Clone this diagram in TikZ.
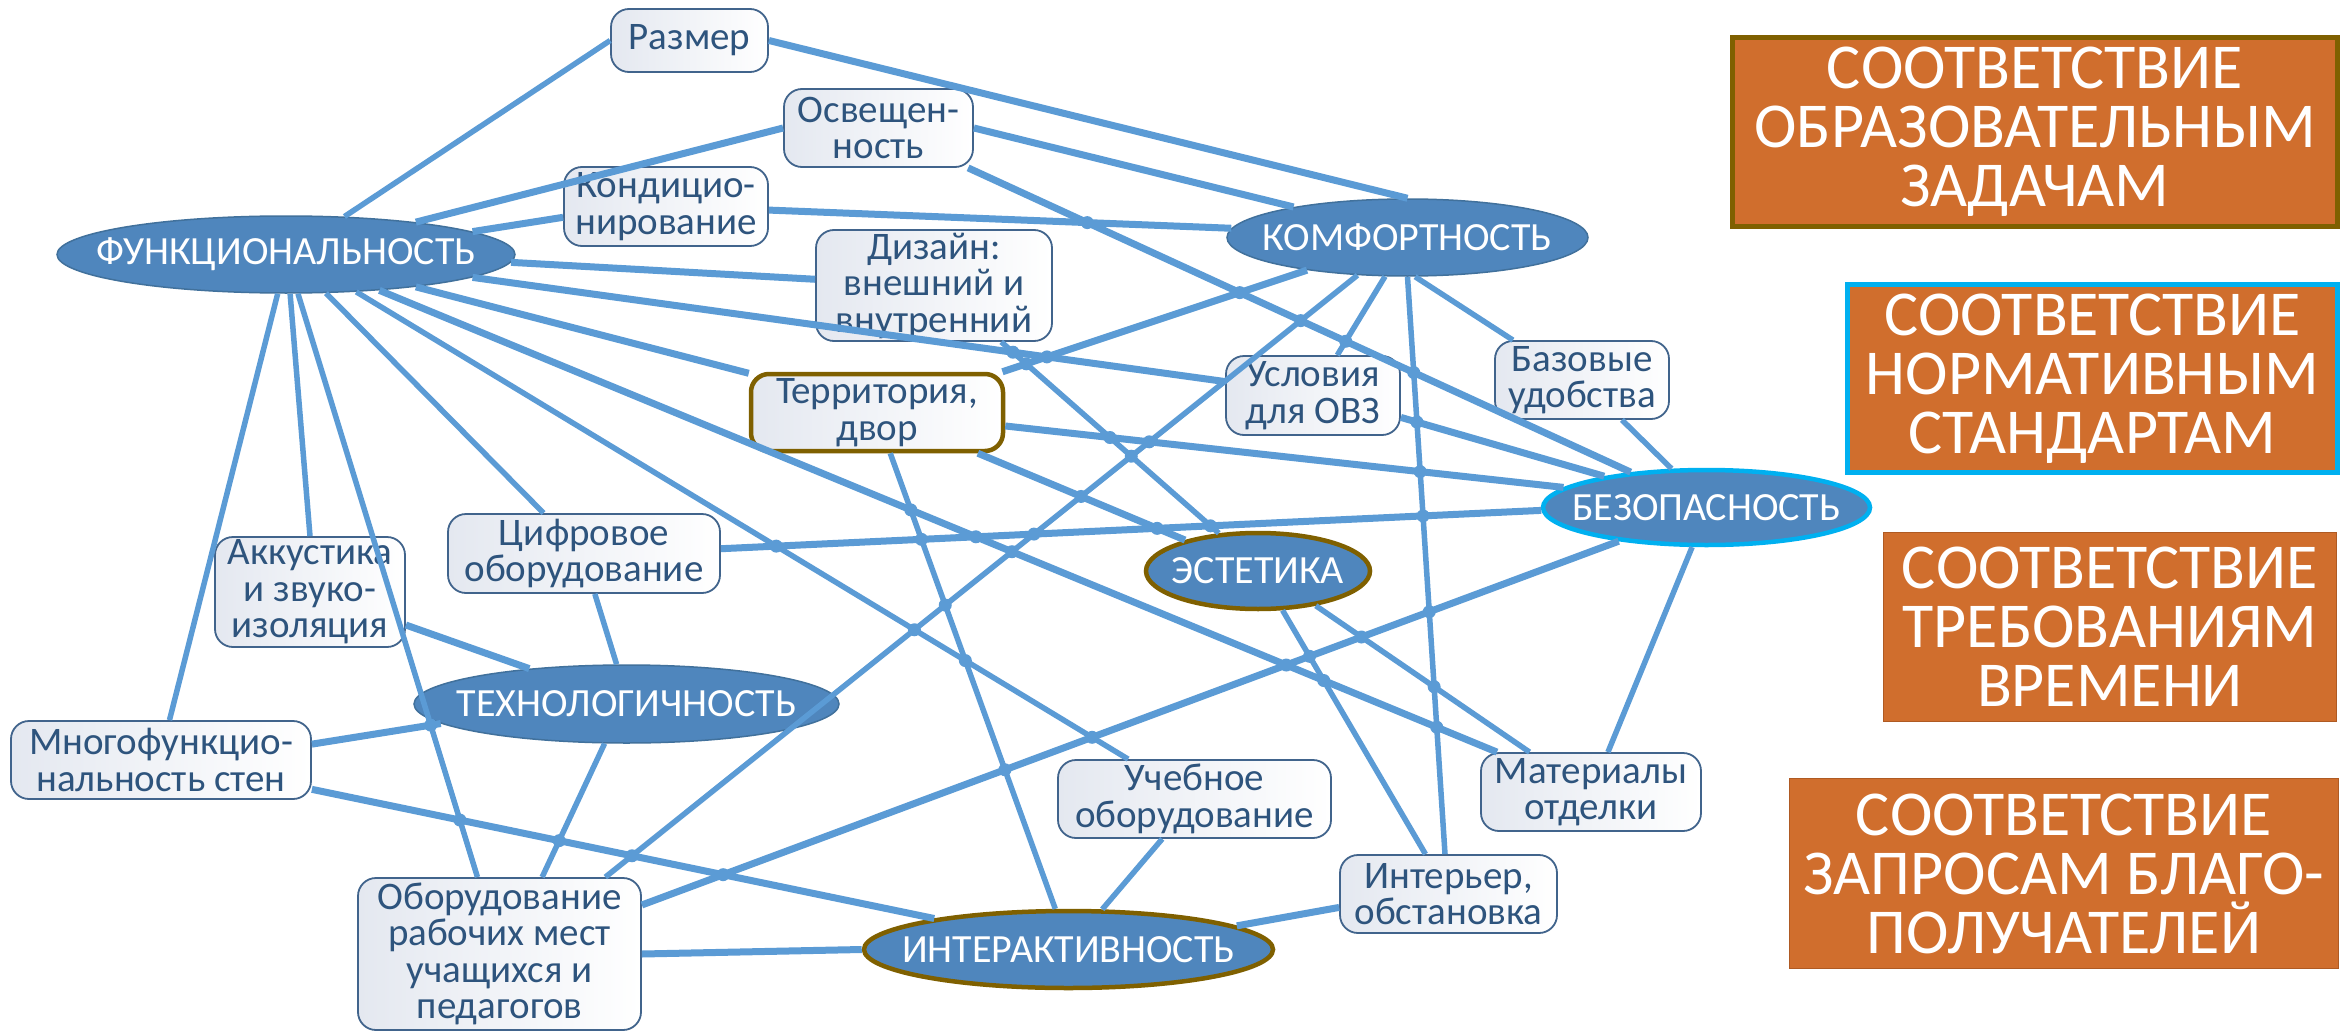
\documentclass[tikz,border=0pt]{standalone}
\usepackage{fontspec}
\setmainfont{Carlito}
\usetikzlibrary{shapes.geometric}
\definecolor{edgeblue}{RGB}{91,155,213}
\definecolor{ellfill}{RGB}{79,134,189}
\definecolor{elldraw}{RGB}{65,113,156}
\definecolor{boxdraw}{RGB}{65,100,140}
\definecolor{boxtext}{RGB}{46,84,125}
\definecolor{boxshade}{RGB}{228,232,240}
\definecolor{olivebr}{RGB}{127,96,0}
\definecolor{cyanbr}{RGB}{0,176,240}
\definecolor{orfill}{RGB}{208,110,45}
\definecolor{ordraw}{RGB}{175,90,35}
\newdimen\tmpdx \newdimen\tmpdy
\newcommand\getpt[3]{%
  \pgfextractx{\tmpdx}{\pgfpointanchor{#1}{center}}%
  \pgfextracty{\tmpdy}{\pgfpointanchor{#1}{center}}%
  \pgfmathsetmacro#2{\tmpdx/100}%
  \pgfmathsetmacro#3{\tmpdy/100}}
\tikzset{
 conbox/.style={rectangle, rounded corners=18pt, draw=boxdraw, line width=1.8pt, left color=boxshade, right color=white, text=boxtext, align=center, inner sep=0pt, font=\fontsize{39}{36.5}\selectfont},
 ellnode/.style={ellipse, fill=ellfill, draw=elldraw, line width=1.5pt, text=white, inner sep=0pt, font=\fontsize{40}{40}\selectfont},
 orbox/.style={rectangle, fill=orfill, draw=ordraw, line width=1.5pt, text=white, align=center, inner sep=0pt, font=\fontsize{64}{59}\selectfont},
 thin/.style={draw=edgeblue, line width=5.5pt},
 thick/.style={draw=edgeblue, line width=7pt},
}
\begin{document}
\begin{tikzpicture}[x=1pt,y=-1pt]
\fill[white] (0,0) rectangle (2348,1033);
\useasboundingbox (0,0) rectangle (2348,1033);
% concept boxes
\node[conbox, minimum width=157pt, minimum height=63pt] (razmer) at (689.5,40.5) {Размер};
\node[conbox, minimum width=189pt, minimum height=78pt] (osv) at (878.5,128) {Освещен-\\ность};
\node[conbox, minimum width=204pt, minimum height=79pt] (kond) at (666,206.5) {Кондицио-\\нирование};
\node[conbox, minimum width=236pt, minimum height=111pt] (dizain) at (934,285.5) {Дизайн:\\внешний и\\внутренний};
\node[conbox, draw=olivebr, line width=4.5pt, minimum width=252pt, minimum height=77pt] (terr) at (877,412.5) {Территория,\\двор};
\node[conbox, minimum width=174pt, minimum height=79pt] (ovz) at (1313,395.5) {Условия\\для ОВЗ};
\node[conbox, minimum width=174pt, minimum height=78pt] (baz) at (1582,380) {Базовые\\удобства};
\node[conbox, minimum width=272pt, minimum height=79pt] (cifr) at (584,553.5) {Цифровое\\оборудование};
\node[conbox, minimum width=190pt, minimum height=110pt] (akk) at (310,592) {Аккустика\\и звуко-\\изоляция};
\node[conbox, minimum width=300pt, minimum height=78pt] (mnog) at (161,760) {Многофункцио-\\нальность стен};
\node[conbox, minimum width=283pt, minimum height=152pt] (obor) at (499.5,954) {Оборудование\\рабочих мест\\учащихся и\\педагогов};
\node[conbox, minimum width=273pt, minimum height=78pt] (ucheb) at (1194.5,799) {Учебное\\оборудование};
\node[conbox, minimum width=217pt, minimum height=78pt] (interer) at (1448.5,894) {Интерьер,\\обстановка};
\node[conbox, minimum width=220pt, minimum height=78pt] (mater) at (1591,792) {Материалы\\отделки};
% main ellipses
\node[ellnode, minimum width=458pt, minimum height=77pt] (func) at (286,254.5) {\makebox[0pt]{ФУНКЦИОНАЛЬНОСТЬ}};
\node[ellnode, minimum width=361pt, minimum height=77pt] (komf) at (1407.5,237.5) {\makebox[0pt]{КОМФОРТНОСТЬ}};
\node[ellnode, draw=cyanbr, line width=4.5pt, minimum width=327pt, minimum height=75pt] (bez) at (1706.5,507.5) {\makebox[0pt]{БЕЗОПАСНОСТЬ}};
\node[ellnode, draw=olivebr, line width=4.5pt, minimum width=224pt, minimum height=76pt] (est) at (1258,571) {\makebox[0pt]{ЭСТЕТИКА}};
\node[ellnode, minimum width=425pt, minimum height=78pt] (tech) at (626.5,704) {\makebox[0pt]{ТЕХНОЛОГИЧНОСТЬ}};
\node[ellnode, draw=olivebr, line width=4.5pt, minimum width=409pt, minimum height=77pt] (inter) at (1068.5,949.5) {\makebox[0pt]{ИНТЕРАКТИВНОСТЬ}};
% orange boxes
\node[orbox, draw=olivebr, line width=5pt, minimum width=605pt, minimum height=189pt] (o1) at (2035,132) {СООТВЕТСТВИЕ\\ОБРАЗОВАТЕЛЬНЫМ\\ЗАДАЧАМ};
\node[orbox, draw=cyanbr, line width=5pt, minimum width=490pt, minimum height=188pt] (o2) at (2092.5,378.5) {СООТВЕТСТВИЕ\\НОРМАТИВНЫМ\\СТАНДАРТАМ};
\node[orbox, minimum width=453pt, minimum height=189pt] (o3) at (2110,627) {СООТВЕТСТВИЕ\\ТРЕБОВАНИЯМ\\ВРЕМЕНИ};
\node[orbox, minimum width=549pt, minimum height=190pt] (o4) at (2064,873.5) {СООТВЕТСТВИЕ\\ЗАПРОСАМ БЛАГО-\\ПОЛУЧАТЕЛЕЙ};
% connectors
\foreach \a/\b/\s [count=\n] in {
 func.33.3/razmer.west/thin, func.14.4/osv.west/thick, func.7.4/kond.186.4/thick,
 func.-2.7/dizain.177.3/thick, func.-7.6/ovz.171.8/thick, func.-14.5/terr.163.8/thick,
 func.258.3/mnog.78.4/thin, func.276/akk.north/thin, func.287.3/obor.106.9/thin,
 func.-44.2/cifr.135.4/thin, func.-28.7/ucheb.149.2/thin, func.-21.3/mater.157.5/thick,
 razmer.east/komf.north/thick, osv.east/komf.165.9/thick, kond.-2.5/komf.177.6/thick,
 osv.-24.2/bez.155.2/thick, dizain.-40.9/est.136.5/thin, terr.-22.8/est.157.2/thick,
 terr.-6.5/bez.172.3/thick, terr.-72.3/inter.108.4/thin, komf.198.3/terr.18.7/thick,
 komf.217.6/obor.36.4/thin, komf.240.2/ovz.59.1/thin, komf.270.7/interer.95.1/thin,
 komf.-79/baz.150/thin, ovz.-14.5/bez.163.3/thick, baz.-45/bez.132/thin,
 bez.181.9/cifr.2.3/thick, bez.201.7/obor.19.1/thick, bez.250.2/mater.67.7/thin,
 est.-58.1/interer.120/thin, est.-31.6/mater.147.4/thin, ucheb.231.1/inter.50.9/thin,
 interer.187.9/inter.8/thick, obor.-0.4/inter.180.7/thick, mnog.-11.5/inter.167.6/thick,
 mnog.6.8/tech.186.8/thick, akk.-19.2/tech.160.4/thick, cifr.-75.4/tech.104.4/thin,
 tech.241.7/obor.61.9/thin}{
  \draw[\s] (\a) -- (\b);
  \coordinate (ps\n) at (\a);
  \coordinate (pe\n) at (\b);
}
% junction dots where connectors cross
\foreach \i in {1,...,39}{
  \pgfmathtruncatemacro{\jfirst}{\i+1}
  \foreach \j in {\jfirst,...,40}{
    \getpt{ps\i}{\xa}{\ya}\getpt{pe\i}{\xb}{\yb}%
    \getpt{ps\j}{\xc}{\yc}\getpt{pe\j}{\xd}{\yd}%
    \pgfmathsetmacro{\den}{(\xa-\xb)*(\yc-\yd)-(\ya-\yb)*(\xc-\xd)}%
    \pgfmathtruncatemacro{\okden}{abs(\den)>0.05}%
    \ifnum\okden=1
      \pgfmathsetmacro{\tpar}{((\xa-\xc)*(\yc-\yd)-(\ya-\yc)*(\xc-\xd))/\den}%
      \pgfmathsetmacro{\upar}{((\xa-\xc)*(\ya-\yb)-(\ya-\yc)*(\xa-\xb))/\den}%
      \pgfmathtruncatemacro{\inside}{(\tpar>0.01)&&(\tpar<0.99)&&(\upar>0.01)&&(\upar<0.99)}%
      \ifnum\inside=1
        \pgfmathsetmacro{\px}{(\xa+\tpar*(\xb-\xa))*100}%
        \pgfmathsetmacro{\py}{(\ya+\tpar*(\yb-\ya))*100}%
        \fill[edgeblue] (\px pt,\py pt) circle (6.5pt);
      \fi
    \fi
  }
}
\end{tikzpicture}
\end{document}
